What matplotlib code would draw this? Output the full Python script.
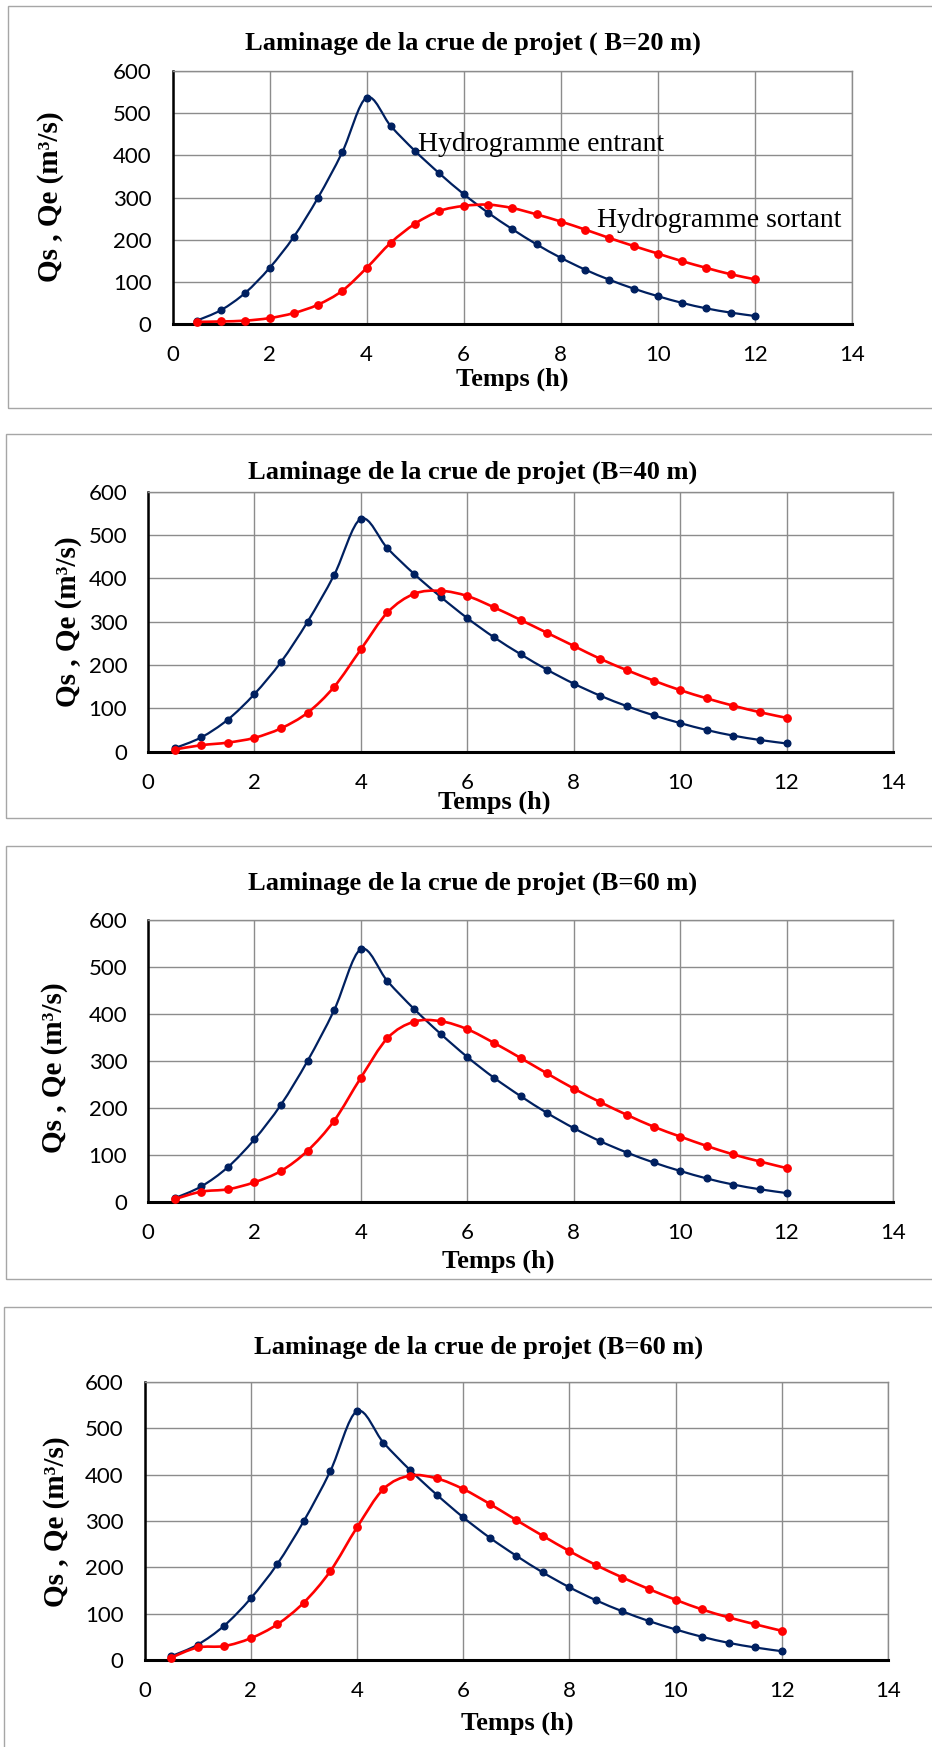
import numpy as np
import matplotlib
matplotlib.use("Agg")
import matplotlib.pyplot as plt
from matplotlib.path import Path
from matplotlib.patches import PathPatch, Rectangle

# ---------------- data ----------------
temps = [0.5, 1, 1.5, 2, 2.5, 3, 3.5, 4, 4.5, 5, 5.5, 6, 6.5, 7, 7.5, 8,
         8.5, 9, 9.5, 10, 10.5, 11, 11.5, 12]

q_entrant = [8, 33, 74, 133, 207, 300, 408, 537, 469, 410, 357, 308, 264, 225,
             189, 157, 129, 105, 84, 66, 50, 37, 27, 19]

q_sortant_20 = [5, 6, 8, 14, 26, 46, 79, 133, 193, 238, 268, 280, 283, 275,
                260, 243, 224, 204, 185, 167, 149, 133, 118, 106]
q_sortant_40 = [5, 15, 21, 32, 54, 90, 150, 236, 321, 364, 371, 359, 333, 304,
                274, 244, 214, 188, 164, 142, 123, 106, 91, 78]
q_sortant_60 = [6, 22, 27, 42, 66, 109, 173, 264, 348, 383, 384, 367, 338, 306,
                273, 241, 212, 185, 160, 139, 119, 101, 86, 72]
q_sortant_60b = [5, 27, 30, 47, 77, 124, 192, 286, 369, 398, 392, 369, 337, 302,
                 268, 235, 205, 178, 153, 130, 109, 92, 77, 63]

titles = ["Laminage de la crue de projet ( B=20 m)",
          "Laminage de la crue de projet (B=40 m)",
          "Laminage de la crue de projet (B=60 m)",
          "Laminage de la crue de projet (B=60 m)"]
x_ticks = [0, 2, 4, 6, 8, 10, 12, 14]
y_ticks = [0, 100, 200, 300, 400, 500, 600]
xlabel = "Temps (h)"
ylabel = "Qs , Qe (m³/s)"
label_in = "Hydrogramme entrant"
label_out = "Hydrogramme sortant"

sorties = [q_sortant_20, q_sortant_40, q_sortant_60, q_sortant_60b]

# ---------------- layout (pixels) ----------------
W, H = 932, 1747
fig = plt.figure(figsize=(W / 100, H / 100), dpi=100)

BLUE = "#002060"
RED = "#FF0000"
GRID = "#8C8C8C"
SERIF = ["Liberation Serif", "DejaVu Serif"]
TICKF = ["Lato", "DejaVu Sans"]

axes_px = [  # left, right, top, bottom
    (172.5, 852, 71, 324),
    (148, 893, 491.5, 751.7),
    (148, 893, 919.5, 1202),
    (144.5, 888, 1382, 1660),
]
boxes_px = [(8, 6, 408), (6, 434, 818), (6, 846, 1279), (4, 1307, 1765)]
title_px = [(473, 43), (473, 472), (473, 883), (479, 1347)]
xlabel_px = [(512, 379), (494, 802), (498, 1261), (517, 1723)]
ylabel_px = [(50.5, 197), (68, 622), (55, 1068), (56.5, 1522)]


def fx(x):
    return x / W


def fy(y):
    return 1 - y / H


def smooth_path(xs, ys):
    xs = np.asarray(xs, float)
    ys = np.asarray(ys, float)
    n = len(xs)
    verts = [(xs[0], ys[0])]
    codes = [Path.MOVETO]
    for i in range(n - 1):
        i0 = max(i - 1, 0)
        i3 = min(i + 2, n - 1)
        c1 = (xs[i] + (xs[i + 1] - xs[i0]) / 6, ys[i] + (ys[i + 1] - ys[i0]) / 6)
        c2 = (xs[i + 1] - (xs[i3] - xs[i]) / 6, ys[i + 1] - (ys[i3] - ys[i]) / 6)
        verts += [c1, c2, (xs[i + 1], ys[i + 1])]
        codes += [Path.CURVE4, Path.CURVE4, Path.CURVE4]
    return Path(verts, codes)


# panel boxes
for (bl, bt, bb) in boxes_px:
    fig.patches.append(Rectangle((fx(bl), fy(bb)), fx(945 - bl), (bb - bt) / H,
                                 transform=fig.transFigure, fill=False,
                                 edgecolor="#A6A6A6", linewidth=1.0, zorder=0))

for k in range(4):
    l, r, t, b = axes_px[k]
    ax = fig.add_axes([fx(l), fy(b), (r - l) / W, (b - t) / H])
    ax.set_xlim(0, 14)
    ax.set_ylim(0, 600)
    ax.set_xticks(x_ticks)
    ax.set_yticks(y_ticks)
    ax.grid(True, color=GRID, linewidth=1.0)
    ax.set_axisbelow(True)
    for s in ("top", "right"):
        ax.spines[s].set_color(GRID)
        ax.spines[s].set_linewidth(1.0)
    ax.spines["left"].set_color("black")
    ax.spines["left"].set_linewidth(1.8)
    ax.spines["bottom"].set_color("black")
    ax.spines["bottom"].set_linewidth(2.2)
    ax.tick_params(length=0, labelsize=16, pad=15)
    ax.tick_params(axis="x", pad=15)
    for lab in ax.get_xticklabels() + ax.get_yticklabels():
        lab.set_fontfamily(TICKF)

    # inflow
    ax.add_patch(PathPatch(smooth_path(temps, q_entrant), fill=False,
                           edgecolor=BLUE, linewidth=1.6, zorder=3))
    ax.plot(temps, q_entrant, "o", color=BLUE, markersize=4.8, zorder=4,
            clip_on=False)
    # outflow
    ax.add_patch(PathPatch(smooth_path(temps, sorties[k]), fill=False,
                           edgecolor=RED, linewidth=1.9, zorder=5))
    ax.plot(temps, sorties[k], "o", color=RED, markersize=5.3, zorder=6,
            clip_on=False)

    if k == 0:
        ax.text(5.06, 425, label_in, fontsize=20, family=SERIF,
                va="center", ha="left", zorder=7)
        ax.text(8.74, 246, label_out, fontsize=20, family=SERIF,
                va="center", ha="left", zorder=7)

    tx, ty = title_px[k]
    fig.text(fx(tx), fy(ty), titles[k], fontsize=19, fontweight="bold",
             family=SERIF, ha="center", va="center")
    xx, xy = xlabel_px[k]
    fig.text(fx(xx), fy(xy), xlabel, fontsize=19, fontweight="bold",
             family=SERIF, ha="center", va="center")
    yx, yy = ylabel_px[k]
    fig.text(fx(yx), fy(yy), ylabel, fontsize=21, fontweight="bold",
             family=SERIF, ha="center", va="center", rotation=90)

fig.savefig("out.png", dpi=100)
